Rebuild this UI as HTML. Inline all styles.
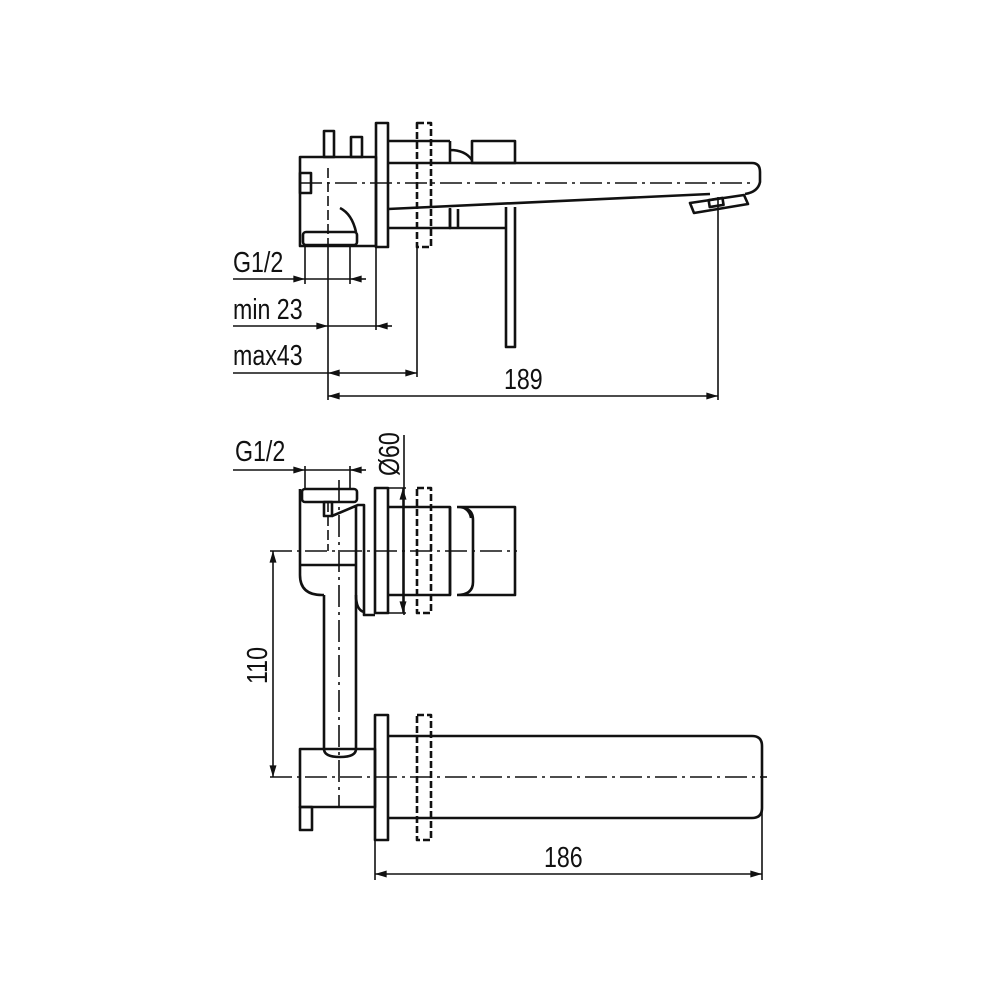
<!DOCTYPE html>
<html><head><meta charset="utf-8"><style>
html,body{margin:0;padding:0;background:#fff;width:1000px;height:1000px;overflow:hidden}
svg{display:block}
text{font-family:"Liberation Sans",sans-serif;font-size:29px;fill:#111}
</style></head><body>
<svg width="1000" height="1000" viewBox="0 0 1000 1000" xmlns="http://www.w3.org/2000/svg">
<defs>
<marker id="a" viewBox="0 0 10 6" refX="10" refY="3" markerWidth="14" markerHeight="7" markerUnits="userSpaceOnUse" orient="auto"><path d="M0,0 L10,3 L0,6 z" fill="#111"/></marker>
</defs>
<g fill="none" stroke="#111" stroke-width="2.6" stroke-linejoin="round">
<rect x="324" y="131" width="10" height="26"/>
<rect x="351" y="137" width="11" height="20"/>
<rect x="300" y="157" width="76" height="89"/>
<rect x="300" y="173" width="11" height="20"/>
<rect x="303" y="232" width="54" height="13" rx="3"/>
<path d="M340 208 Q352 214 356 232"/>
<rect x="376" y="123" width="12" height="124"/>
<rect x="417" y="123" width="14" height="124" stroke-dasharray="7,3"/>
<path d="M388 141 H450 M388 228 H450 V208"/>
<path d="M450 141 V163 M450 150 Q465 150 472 160"/>
<rect x="472" y="141" width="43" height="22"/>
<path d="M388 163 H752 Q760 163 760 172 V182 Q758 192 745 194"/>
<path d="M388 209 L710 194"/>
<path d="M450 209 V228 H506 M458 209 V228"/>
<path d="M506 207 V347 H515 V207"/>
<path d="M690 203 L744 195 L748 204 L694 213 Z"/>
<rect x="709" y="199" width="14" height="7" transform="rotate(-9 716 202)"/>
<path d="M300 183 H755" stroke-width="1.6" stroke-dasharray="22,5,3,5"/>
<path d="M328 168 V246" stroke-width="1.6" stroke-dasharray="10,4"/>
<g stroke-width="1.6">
<path d="M305 246 V284 M350 246 V284 M328 246 V400 M376 247 V330 M417 247 V377 M718 197 V400"/>
<path d="M233 279 H305" marker-end="url(#a)"/>
<path d="M366 279 H350" marker-end="url(#a)"/>
<path d="M305 279 H350"/>
<path d="M233 326 H328" marker-end="url(#a)"/>
<path d="M392 326 H376" marker-end="url(#a)"/>
<path d="M328 326 H376"/>
<path d="M233 373 H328"/>
<path d="M370 373 H328" marker-end="url(#a)"/>
<path d="M370 373 H417" marker-end="url(#a)"/>
<path d="M520 396 H328" marker-end="url(#a)"/>
<path d="M520 396 H718" marker-end="url(#a)"/>
</g>
<rect x="302" y="489" width="55" height="13" rx="3"/>
<path d="M300 489 V575 Q300 595 322 595 H324"/>
<path d="M300 565 H356"/>
<rect x="324" y="502" width="8" height="14"/>
<path d="M332 516 L358 505 H364 V615 H375 M356 505 V595 Q356 610 364 612"/>
<rect x="375" y="488" width="13" height="125"/>
<rect x="417" y="488" width="14" height="125" stroke-dasharray="7,3"/>
<path d="M388 507 H450 V595 H388"/>
<path d="M457 507 H515 V595 H457 M457 507 Q473 507 473 520 V582 Q473 595 457 595 M450 507 V595 M462 507 Q470 510 471 518"/>
<path d="M324 595 V750 Q324 757 340 757 Q356 757 356 750 V595"/>
<rect x="300" y="749" width="75" height="58" fill="#fff"/>
<path d="M324 749 Q324 757 340 757 Q356 757 356 749"/>
<rect x="300" y="807" width="12" height="23"/>
<rect x="375" y="715" width="13" height="125"/>
<rect x="417" y="715" width="14" height="125" stroke-dasharray="7,3"/>
<path d="M388 736 H752 Q762 736 762 746 V808 Q762 818 752 818 H388"/>
<path d="M270 551 H517" stroke-width="1.6" stroke-dasharray="22,5,3,5"/>
<path d="M270 777 H767" stroke-width="1.6" stroke-dasharray="22,5,3,5"/>
<path d="M328 502 V551" stroke-width="1.6" stroke-dasharray="10,4"/>
<path d="M339 480 V807" stroke-width="1.6" stroke-dasharray="22,5,3,5"/>
<g stroke-width="1.6">
<path d="M305 466 V489 M350 466 V489"/>
<path d="M233 470 H305" marker-end="url(#a)"/>
<path d="M366 470 H350" marker-end="url(#a)"/>
<path d="M305 470 H350"/>
<path d="M404 435 V615 M388 488 H406 M388 613 H406"/>
<path d="M403 550 V488" marker-end="url(#a)"/>
<path d="M403 550 V613" marker-end="url(#a)"/>
<path d="M273 665 V551" marker-end="url(#a)"/>
<path d="M273 665 V777" marker-end="url(#a)"/>
<path d="M375 840 V880 M762 780 V880"/>
<path d="M568 874 H375" marker-end="url(#a)"/>
<path d="M568 874 H762" marker-end="url(#a)"/>
</g>
</g>
<g>
<text transform="translate(233 272) scale(0.8 1)">G1/2</text>
<text transform="translate(233 319) scale(0.8 1)">min 23</text>
<text transform="translate(233 365) scale(0.8 1)">max43</text>
<text transform="translate(504 389) scale(0.8 1)">189</text>
<text transform="translate(235 461) scale(0.8 1)">G1/2</text>
<text transform="translate(399 476) rotate(-90) scale(0.8 1)">Ø60</text>
<text transform="translate(267 684) rotate(-90) scale(0.8 1)">110</text>
<text transform="translate(544 867) scale(0.8 1)">186</text>
</g>
</svg>
</body></html>
